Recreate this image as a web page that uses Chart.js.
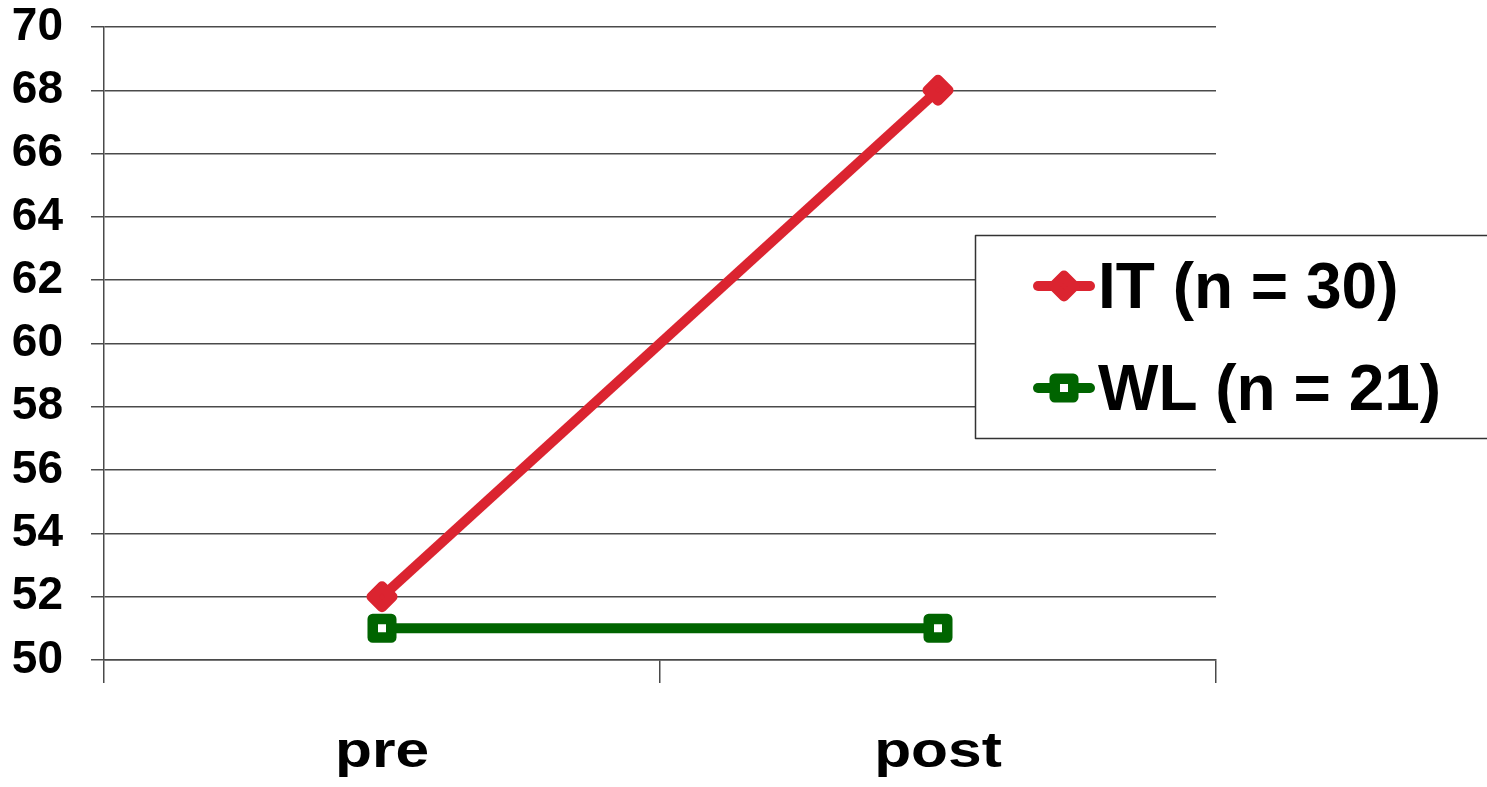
<!DOCTYPE html>
<html>
<head>
<meta charset="utf-8">
<script src="https://cdn.jsdelivr.net/npm/chart.js@4/dist/chart.umd.min.js"></script>
<style>
  html, body { margin: 0; padding: 0; background: #fff; }
  canvas { display: block; }
</style>
</head>
<body>
<canvas id="c" width="1487" height="787"></canvas>
<script>
// Measurement times and group means
const timepoints = ['pre', 'post'];
const itValues = [52, 68];
const wlValues = [51, 51];
const seriesNames = ['IT (n = 30)', 'WL (n = 21)'];
const yMin = 50, yMax = 70, yStep = 2;

const RED = '#DB2430';
const GREEN = '#006400';
const GRID = '#4a4a4a';
const FONT = '"Liberation Sans", Arial, sans-serif';

// Rounded joins for the thick marker outlines
const roundJoins = {
  id: 'roundJoins',
  beforeDatasetsDraw(chart) {
    chart.ctx.lineJoin = 'round';
    chart.ctx.lineCap = 'round';
  }
};

// Category labels under the x axis, drawn wide and bold
const xLabels = {
  id: 'xLabels',
  afterDraw(chart) {
    const ctx = chart.ctx;
    const xs = chart.scales.x;
    const stretch = 1.21;
    ctx.save();
    ctx.fillStyle = '#000';
    ctx.font = 'bold 50px ' + FONT;
    ctx.textAlign = 'center';
    ctx.textBaseline = 'alphabetic';
    xs.getLabels().forEach((lab, i) => {
      const px = xs.getPixelForTick(i);
      ctx.save();
      ctx.translate(px, 767);
      ctx.scale(stretch, 1);
      ctx.fillText(lab, 0, 0);
      ctx.restore();
    });
    ctx.restore();
  }
};

// Boxed legend floating over the right part of the plot
const boxLegend = {
  id: 'boxLegend',
  afterDraw(chart) {
    const ctx = chart.ctx;
    const box = { x: 975.5, y: 235.5, w: 530, h: 203 };
    ctx.save();
    ctx.fillStyle = '#fff';
    ctx.fillRect(box.x, box.y, box.w, box.h);
    ctx.strokeStyle = '#333';
    ctx.lineWidth = 1.5;
    ctx.strokeRect(box.x, box.y, box.w, box.h);

    const rows = [286, 388];
    chart.data.datasets.forEach((ds, i) => {
      const cy = rows[i];
      ctx.save();
      ctx.lineCap = 'round';
      ctx.lineJoin = 'round';
      ctx.strokeStyle = ds.borderColor;
      ctx.lineWidth = 10;
      ctx.beginPath();
      ctx.moveTo(1038, cy);
      ctx.lineTo(1090, cy);
      ctx.stroke();
      ctx.strokeStyle = ds.pointBorderColor;
      ctx.fillStyle = ds.pointBackgroundColor;
      ctx.lineWidth = ds.pointBorderWidth;
      Chart.helpers.drawPoint(ctx, {
        pointStyle: ds.pointStyle,
        radius: ds.pointRadius,
        rotation: 0,
        borderWidth: ds.pointBorderWidth
      }, 1064, cy);
      ctx.restore();

      ctx.fillStyle = '#000';
      ctx.font = 'bold 64px ' + FONT;
      ctx.textAlign = 'left';
      ctx.textBaseline = 'alphabetic';
      ctx.fillText(ds.label, 1098, cy + 22);
    });
    ctx.restore();
  }
};

new Chart(document.getElementById('c'), {
  type: 'line',
  data: {
    labels: timepoints,
    datasets: [
      {
        label: seriesNames[0],
        data: itValues,
        borderColor: RED,
        borderWidth: 10,
        pointStyle: 'rectRot',
        pointRadius: 10.5,
        pointBackgroundColor: RED,
        pointBorderColor: RED,
        pointBorderWidth: 10,
        pointHoverRadius: 10.5,
        order: 1
      },
      {
        label: seriesNames[1],
        data: wlValues,
        borderColor: GREEN,
        borderWidth: 10,
        pointStyle: 'rect',
        pointRadius: 13.1,
        pointBackgroundColor: '#fff',
        pointBorderColor: GREEN,
        pointBorderWidth: 10.5,
        pointHoverRadius: 13.1,
        order: 0
      }
    ]
  },
  options: {
    responsive: false,
    animation: false,
    events: [],
    layout: { autoPadding: false, padding: { left: 0, top: 27, right: 271, bottom: 0 } },
    plugins: {
      legend: { display: false },
      title: { display: false },
      tooltip: { enabled: false }
    },
    scales: {
      x: {
        type: 'category',
        offset: true,
        grid: {
          offset: true,
          drawOnChartArea: false,
          drawTicks: true,
          tickLength: 23,
          color: GRID,
          lineWidth: 1.5
        },
        border: { display: true, color: GRID, width: 1.5 },
        ticks: { display: false },
        afterFit(s) {
          s.height = 127;
          s.paddingLeft = 0;
          s.paddingRight = 0;
        }
      },
      y: {
        min: yMin,
        max: yMax,
        grid: {
          color: GRID,
          lineWidth: 1.5,
          tickLength: 13
        },
        border: { display: true, color: GRID, width: 1.5 },
        ticks: {
          stepSize: yStep,
          padding: 28,
          color: '#000',
          font: { family: FONT, size: 46, weight: 'bold', lineHeight: 1 }
        },
        afterFit(s) {
          s.width = 104;
          s.paddingTop = 0;
          s.paddingBottom = 0;
        }
      }
    }
  },
  plugins: [roundJoins, xLabels, boxLegend]
});
</script>
</body>
</html>
